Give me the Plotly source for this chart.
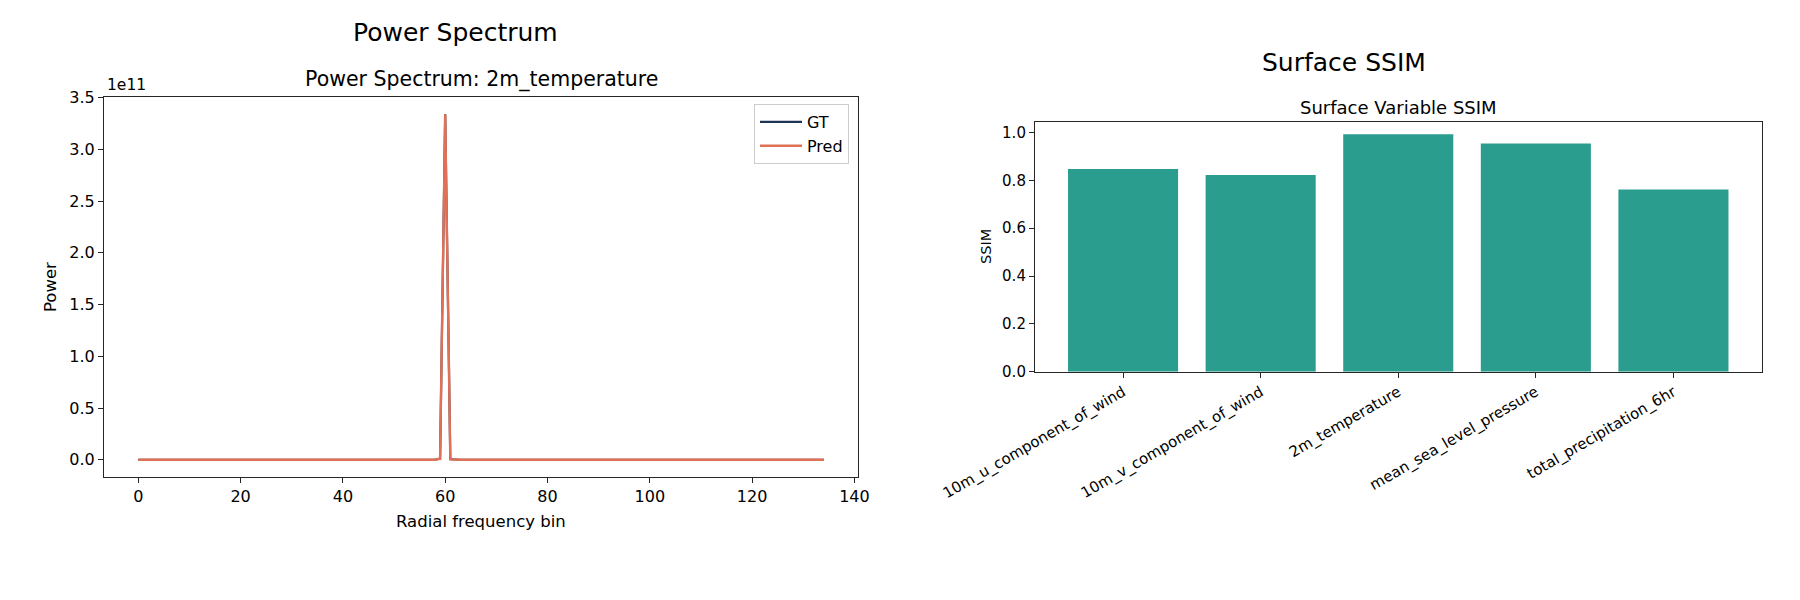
import plotly.graph_objects as go

# ---------------- data ----------------
freq_bins = list(range(135))

gt_power = [
    0, 0, 0, 0, 0, 0, 0, 0, 0, 0,
    0, 0, 0, 0, 0, 0, 0, 0, 0, 0,
    0, 0, 0, 0, 0, 0, 0, 0, 0, 0,
    0, 0, 0, 0, 0, 0, 0, 0, 0, 0,
    0, 0, 0, 0, 0, 0, 0, 0, 0, 0,
    0, 0, 0, 0, 0, 0, 0, 0, 0, 1.0e9,
    3.34e11, 0.5e9, 0, 0, 0, 0, 0, 0, 0, 0,
    0, 0, 0, 0, 0, 0, 0, 0, 0, 0,
    0, 0, 0, 0, 0, 0, 0, 0, 0, 0,
    0, 0, 0, 0, 0, 0, 0, 0, 0, 0,
    0, 0, 0, 0, 0, 0, 0, 0, 0, 0,
    0, 0, 0, 0, 0, 0, 0, 0, 0, 0,
    0, 0, 0, 0, 0, 0, 0, 0, 0, 0,
    0, 0, 0, 0, 0,
]
pred_power = [
    0, 0, 0, 0, 0, 0, 0, 0, 0, 0,
    0, 0, 0, 0, 0, 0, 0, 0, 0, 0,
    0, 0, 0, 0, 0, 0, 0, 0, 0, 0,
    0, 0, 0, 0, 0, 0, 0, 0, 0, 0,
    0, 0, 0, 0, 0, 0, 0, 0, 0, 0,
    0, 0, 0, 0, 0, 0, 0, 0, 0, 1.0e9,
    3.34e11, 0.5e9, 0, 0, 0, 0, 0, 0, 0, 0,
    0, 0, 0, 0, 0, 0, 0, 0, 0, 0,
    0, 0, 0, 0, 0, 0, 0, 0, 0, 0,
    0, 0, 0, 0, 0, 0, 0, 0, 0, 0,
    0, 0, 0, 0, 0, 0, 0, 0, 0, 0,
    0, 0, 0, 0, 0, 0, 0, 0, 0, 0,
    0, 0, 0, 0, 0, 0, 0, 0, 0, 0,
    0, 0, 0, 0, 0,
]
assert len(gt_power) == len(freq_bins) == len(pred_power)

power_tickvals = [0, 0.5e11, 1.0e11, 1.5e11, 2.0e11, 2.5e11, 3.0e11, 3.5e11]
power_ticktext = ["0.0", "0.5", "1.0", "1.5", "2.0", "2.5", "3.0", "3.5"]
freq_tickvals = [0, 20, 40, 60, 80, 100, 120, 140]

surface_vars = [
    "10m_u_component_of_wind",
    "10m_v_component_of_wind",
    "2m_temperature",
    "mean_sea_level_pressure",
    "total_precipitation_6hr",
]
ssim_values = [0.847, 0.822, 0.993, 0.954, 0.762]
ssim_tickvals = [0.0, 0.2, 0.4, 0.6, 0.8, 1.0]

# ---------------- layout helpers ----------------
W, H = 1800, 600
FONT = "DejaVu Sans"
AX = "#262626"


def px(x):
    return x / W


def py(y):
    return 1 - y / H


fig = go.Figure()

fig.add_trace(go.Scatter(
    x=freq_bins, y=gt_power, mode="lines", name="GT",
    line=dict(color="#1d3557", width=2.2), xaxis="x", yaxis="y",
))
fig.add_trace(go.Scatter(
    x=freq_bins, y=pred_power, mode="lines", name="Pred",
    line=dict(color="#e07056", width=2.4), xaxis="x", yaxis="y",
))
fig.add_trace(go.Bar(
    x=surface_vars, y=ssim_values, marker=dict(color="#2a9d8f", line=dict(width=0)),
    width=0.8, showlegend=False, xaxis="x2", yaxis="y2",
))

axis_common = dict(
    showline=True, linecolor=AX, linewidth=1.1, mirror=True,
    ticks="outside", ticklen=5, tickwidth=1, tickcolor=AX,
    showgrid=False, zeroline=False, automargin=False,
)

fig.update_layout(
    width=W, height=H,
    margin=dict(l=0, r=0, t=0, b=0, autoexpand=False),
    paper_bgcolor="white", plot_bgcolor="white",
    font=dict(family=FONT, color="#000000"),
    xaxis=dict(
        domain=[px(104), px(858)], anchor="y", range=[-6.7, 140.7],
        tickvals=freq_tickvals, tickfont=dict(size=16, family=FONT, color="#000"),
        **axis_common,
    ),
    yaxis=dict(
        domain=[py(477), py(97)], anchor="x", range=[-0.167e11, 3.507e11],
        tickvals=power_tickvals, ticktext=power_ticktext,
        tickfont=dict(size=16, family=FONT, color="#000"),
        **axis_common,
    ),
    xaxis2=dict(
        domain=[px(1035), px(1761.5)], anchor="y2", range=[-0.64, 4.64],
        type="category", tickangle=-30,
        tickfont=dict(size=15, family=FONT, color="#000"),
        **axis_common,
    ),
    yaxis2=dict(
        domain=[py(371.7), py(122.3)], anchor="x2", range=[0, 1.0426],
        tickvals=ssim_tickvals, tickformat=".1f",
        tickfont=dict(size=15, family=FONT, color="#000"),
        **axis_common,
    ),
    legend=dict(
        x=px(849), xanchor="right", y=py(104), yanchor="top",
        bordercolor="#cccccc", borderwidth=1, bgcolor="rgba(255,255,255,0.85)",
        font=dict(size=16, family=FONT, color="#000"),
        itemwidth=42, tracegroupgap=0,
    ),
    bargap=0.2,
)

annotations = [
    dict(text="Power Spectrum", x=px(455), y=py(32), size=25),
    dict(text="Power Spectrum: 2m_temperature", x=px(481), y=py(80), size=20.5),
    dict(text="Surface SSIM", x=px(1344), y=py(63), size=25),
    dict(text="Surface Variable SSIM", x=px(1398), y=py(107), size=18),
    dict(text="Radial frequency bin", x=px(481), y=py(521), size=16.5),
]
for a in annotations:
    fig.add_annotation(
        text=a["text"], x=a["x"], y=a["y"], xref="paper", yref="paper",
        xanchor="center", yanchor="middle", showarrow=False,
        font=dict(size=a["size"], family=FONT, color="#000"),
    )

fig.add_annotation(
    text="Power", x=px(51), y=py(287), xref="paper", yref="paper",
    xanchor="center", yanchor="middle", textangle=-90, showarrow=False,
    font=dict(size=16.5, family=FONT, color="#000"),
)
fig.add_annotation(
    text="SSIM", x=px(986), y=py(247), xref="paper", yref="paper",
    xanchor="center", yanchor="middle", textangle=-90, showarrow=False,
    font=dict(size=14.5, family=FONT, color="#000"),
)
fig.add_annotation(
    text="1e11", x=px(105), y=py(96), xref="paper", yref="paper",
    xanchor="left", yanchor="bottom", showarrow=False,
    font=dict(size=15.5, family=FONT, color="#000"),
)

fig.write_html("out.html")
